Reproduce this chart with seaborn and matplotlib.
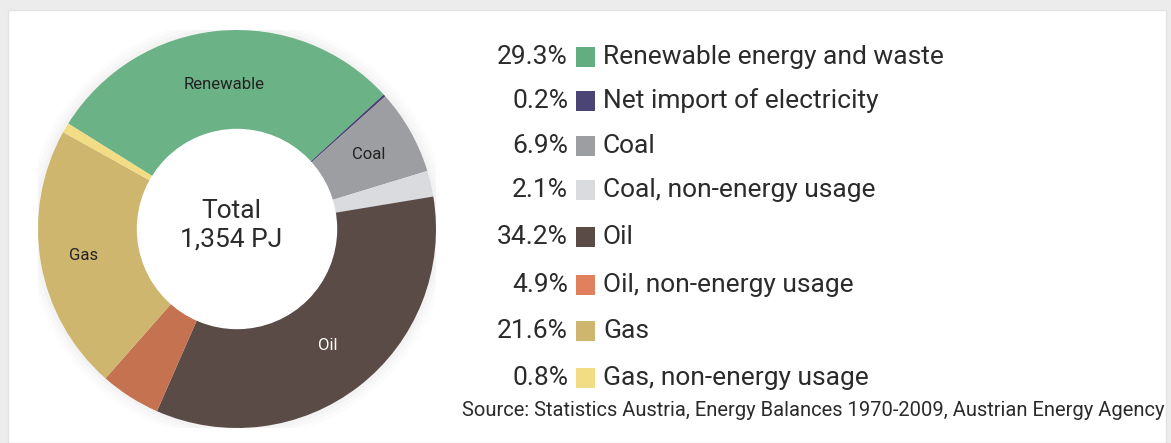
import matplotlib
matplotlib.use("Agg")
import matplotlib.pyplot as plt
import seaborn as sns
import numpy as np
from matplotlib.patches import Rectangle

categories = ["Renewable energy and waste", "Net import of electricity", "Coal",
              "Coal, non-energy usage", "Oil", "Oil, non-energy usage", "Gas",
              "Gas, non-energy usage"]
shares = [29.3, 0.2, 6.9, 2.1, 34.2, 4.9, 21.6, 0.8]
share_labels = ["29.3%", "0.2%", "6.9%", "2.1%", "34.2%", "4.9%", "21.6%", "0.8%"]
slice_labels = ["Renewable", "", "Coal", "", "Oil", "", "Gas", ""]
colors = ["#6bb286", "#4b4575", "#9d9ea2", "#d9dbde", "#5b4b46", "#c4724f",
          "#cfb66f", "#f2dd85"]
legend_colors = ["#62ae80", "#4b4575", "#9d9ea2", "#d9dbde", "#5b4b46", "#e0805c",
                 "#cfb66f", "#f2dd85"]
center_text = "Total\n1,354 PJ"
source_text = "Source: Statistics Austria, Energy Balances 1970-2009, Austrian Energy Agency"

sns.set_theme(style="white")
plt.rcParams['font.family'] = ['Roboto', 'DejaVu Sans']

W, H = 1171, 443
fig = plt.figure(figsize=(W / 100, H / 100), dpi=100)
fig.patch.set_facecolor("#ececec")
# white panel
fig.add_artist(Rectangle((8 / W, 0 / H), (1166 - 8) / W, (433 - 0) / H,
                         transform=fig.transFigure, facecolor="white",
                         edgecolor="#e2e2e2", linewidth=1, zorder=0))

cx, cy, R = 237, 229, 199
ax = fig.add_axes([(cx - R) / W, (H - cy - R) / H, 2 * R / W, 2 * R / H])
ax.set_facecolor("none")

# faint glow
for k, a in zip([1.06, 1.04, 1.02], [0.025, 0.035, 0.045]):
    ax.add_patch(plt.Circle((0, 0), k, color="#999999", alpha=a, lw=0, zorder=0))

start = 148
wedges, _ = ax.pie(shares, colors=colors, startangle=start, counterclock=False,
                   radius=1.0, wedgeprops=dict(width=0.5, edgecolor="none", linewidth=0))
ax.add_patch(plt.Circle((0, 0), 0.5, color="white", zorder=3))

cum = np.cumsum([0] + shares[:-1])
label_r = [0.73, 0, 0.76, 0, 0.74, 0, 0.78, 0]
for lab, c0, s, r in zip(slice_labels, cum, shares, label_r):
    if not lab:
        continue
    ang = np.deg2rad(start - (c0 + s / 2) * 3.6)
    col = "white" if lab == "Oil" else "#222222"
    ax.text(r * np.cos(ang), r * np.sin(ang), lab, ha="center", va="center",
            fontsize=12, color=col, zorder=5)

ax.text(-0.03, 0.02, center_text, ha="center", va="center", fontsize=19,
        color="#2b2b2b", linespacing=1.25, zorder=5)
ax.set_xlim(-1.0, 1.0)
ax.set_ylim(-1.0, 1.0)
ax.set_aspect("equal")
ax.axis("off")

# legend
row_y = [57, 101, 146, 190, 237, 285, 331, 378]
for y, pct, lab, col in zip(row_y, share_labels, categories, legend_colors):
    fy = 1 - y / H
    fig.text(568 / W, fy, pct, ha="right", va="center", fontsize=19, color="#2b2b2b")
    fig.add_artist(Rectangle((576 / W, 1 - (y + 10) / H), 19 / W, 20 / H,
                             transform=fig.transFigure, facecolor=col, edgecolor="none"))
    fig.text(603 / W, fy, lab, ha="left", va="center", fontsize=19, color="#2b2b2b")

fig.text(1164 / W, 1 - 411 / H, source_text, ha="right", va="center",
         fontsize=14.5, color="#2b2b2b")

fig.savefig("out.png", dpi=100, facecolor=fig.get_facecolor())
